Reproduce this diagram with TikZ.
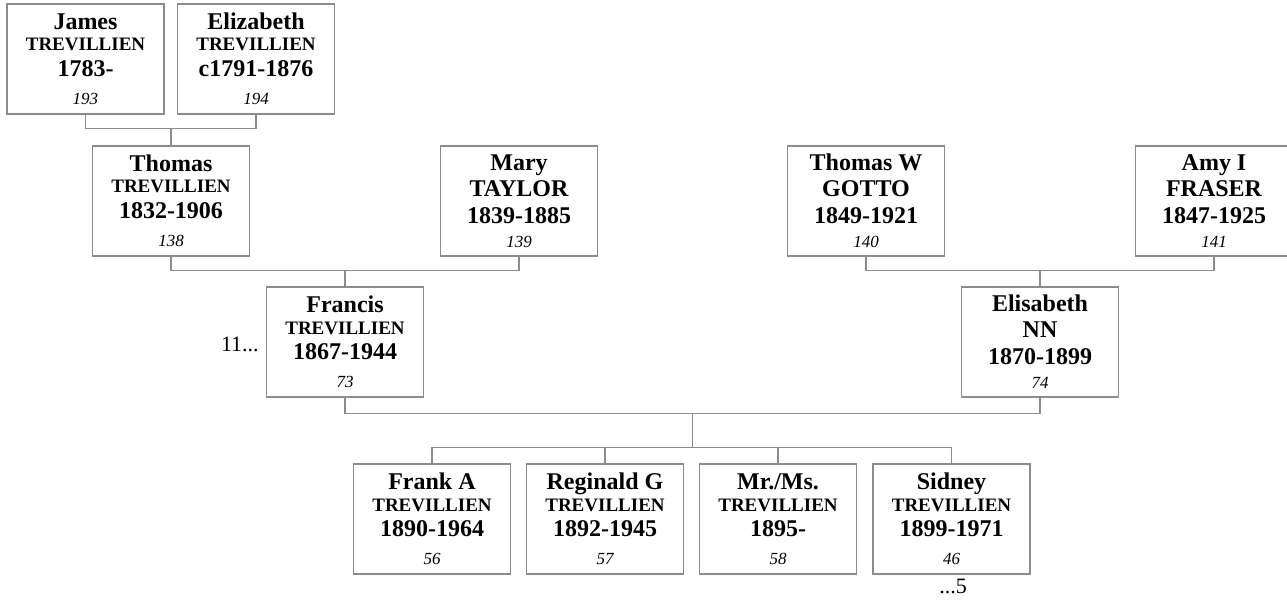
\documentclass[tikz,border=0pt]{standalone}
\usepackage{fontspec}
\setmainfont{Liberation Serif}
\usetikzlibrary{positioning,calc}

\definecolor{boxgray}{gray}{0.55}

% one centred line, #1 = distance from the baseline above
\newcommand{\pline}[2]{\setbox0=\hbox to 150pt{\hss#2\hss}\ht0=#1\dp0=0pt\box0}
% name, short surname, years, number
\newcommand{\person}[4]{\vbox{\offinterlineskip
  \pline{18pt}{\fontsize{24}{25}\selectfont\bfseries #1}
  \pline{21.5pt}{\fontsize{19}{20}\selectfont\bfseries #2}
  \pline{25.5pt}{\fontsize{24}{25}\selectfont\bfseries #3}
  \pline{28pt}{\fontsize{17}{18}\selectfont\itshape #4}\kern2pt}}
% name, full size surname, years, number
\newcommand{\personbig}[4]{\vbox{\offinterlineskip
  \pline{18pt}{\fontsize{24}{25}\selectfont\bfseries #1}
  \pline{26.5pt}{\fontsize{24}{25}\selectfont\bfseries #2}
  \pline{27pt}{\fontsize{24}{25}\selectfont\bfseries #3}
  \pline{23.5pt}{\fontsize{17}{18}\selectfont\itshape #4}\kern2.5pt}}

\begin{document}
\begin{tikzpicture}[x=1pt,y=-1pt,
	pbox/.style={draw=boxgray,line width=1.2pt,fill=white,minimum width=157pt,minimum height=110pt,inner sep=0pt},
	link/.style={draw=boxgray,line width=1.2pt},
	ref/.style={inner sep=0pt,font=\fontsize{22}{24}\selectfont}]
	\useasboundingbox (0,0) rectangle (1287,601);

	% grandparents
	\node[pbox] (james) at (85.5,59) {\person{James}{TREVILLIEN}{1783-}{193}};
	\node[pbox] (elizabeth) at (256,59) {\person{Elizabeth}{TREVILLIEN}{c1791-1876}{194}};
	\node[pbox] (thomas) at (171,201) {\person{Thomas}{TREVILLIEN}{1832-1906}{138}};
	\node[pbox] (mary) at (519,201) {\personbig{Mary}{TAYLOR}{1839-1885}{139}};
	\node[pbox] (thomasw) at (866,201) {\personbig{Thomas W}{GOTTO}{1849-1921}{140}};
	\node[pbox] (amy) at (1214,201) {\personbig{Amy I}{FRASER}{1847-1925}{141}};

	% parents
	\node[pbox] (francis) at (345,342) {\person{Francis}{TREVILLIEN}{1867-1944}{73}};
	\node[pbox] (elisabeth) at (1040,342) {\personbig{Elisabeth}{NN}{1870-1899}{74}};

	% children
	\node[pbox] (frank) at (432,519) {\person{Frank A}{TREVILLIEN}{1890-1964}{56}};
	\node[pbox] (reginald) at (605,519) {\person{Reginald G}{TREVILLIEN}{1892-1945}{57}};
	\node[pbox] (mrms) at (778,519) {\person{Mr./Ms.}{TREVILLIEN}{1895-}{58}};
	\node[pbox] (sidney) at (951.5,519) {\person{Sidney}{TREVILLIEN}{1899-1971}{46}};

	% references
	\node[ref,left=7pt of francis,yshift=-2pt] (francisref) {11...};
	\node[ref,below=4pt of sidney,xshift=1.5pt] (sidneyref) {...5};

	% links
	\coordinate (jebus) at ([yshift=17pt]thomas.north);
	\coordinate (tmbus) at ([yshift=16pt]francis.north);
	\coordinate (gabus) at ([yshift=16pt]elisabeth.north);
	\coordinate (febus) at ($(francis.south)!.5!(elisabeth.south)+(0,16)$);
	\coordinate (kidbus) at ([yshift=16pt]frank.north);
	\draw[link] (james.south) |- (jebus) -| (elizabeth.south);
	\draw[link] (jebus) -- (thomas.north);
	\draw[link] (thomas.south) |- (tmbus) -| (mary.south);
	\draw[link] (tmbus) -- (francis.north);
	\draw[link] (thomasw.south) |- (gabus) -| (amy.south);
	\draw[link] (gabus) -- (elisabeth.north);
	\draw[link] (francis.south) |- (febus) -| (elisabeth.south);
	\draw[link] (febus) -- (febus |- kidbus);
	\draw[link] (frank.north) |- (kidbus) -| (sidney.north);
	\foreach \k in {reginald,mrms}
		\draw[link] (\k.north) -- (\k.north |- kidbus);
\end{tikzpicture}
\end{document}
